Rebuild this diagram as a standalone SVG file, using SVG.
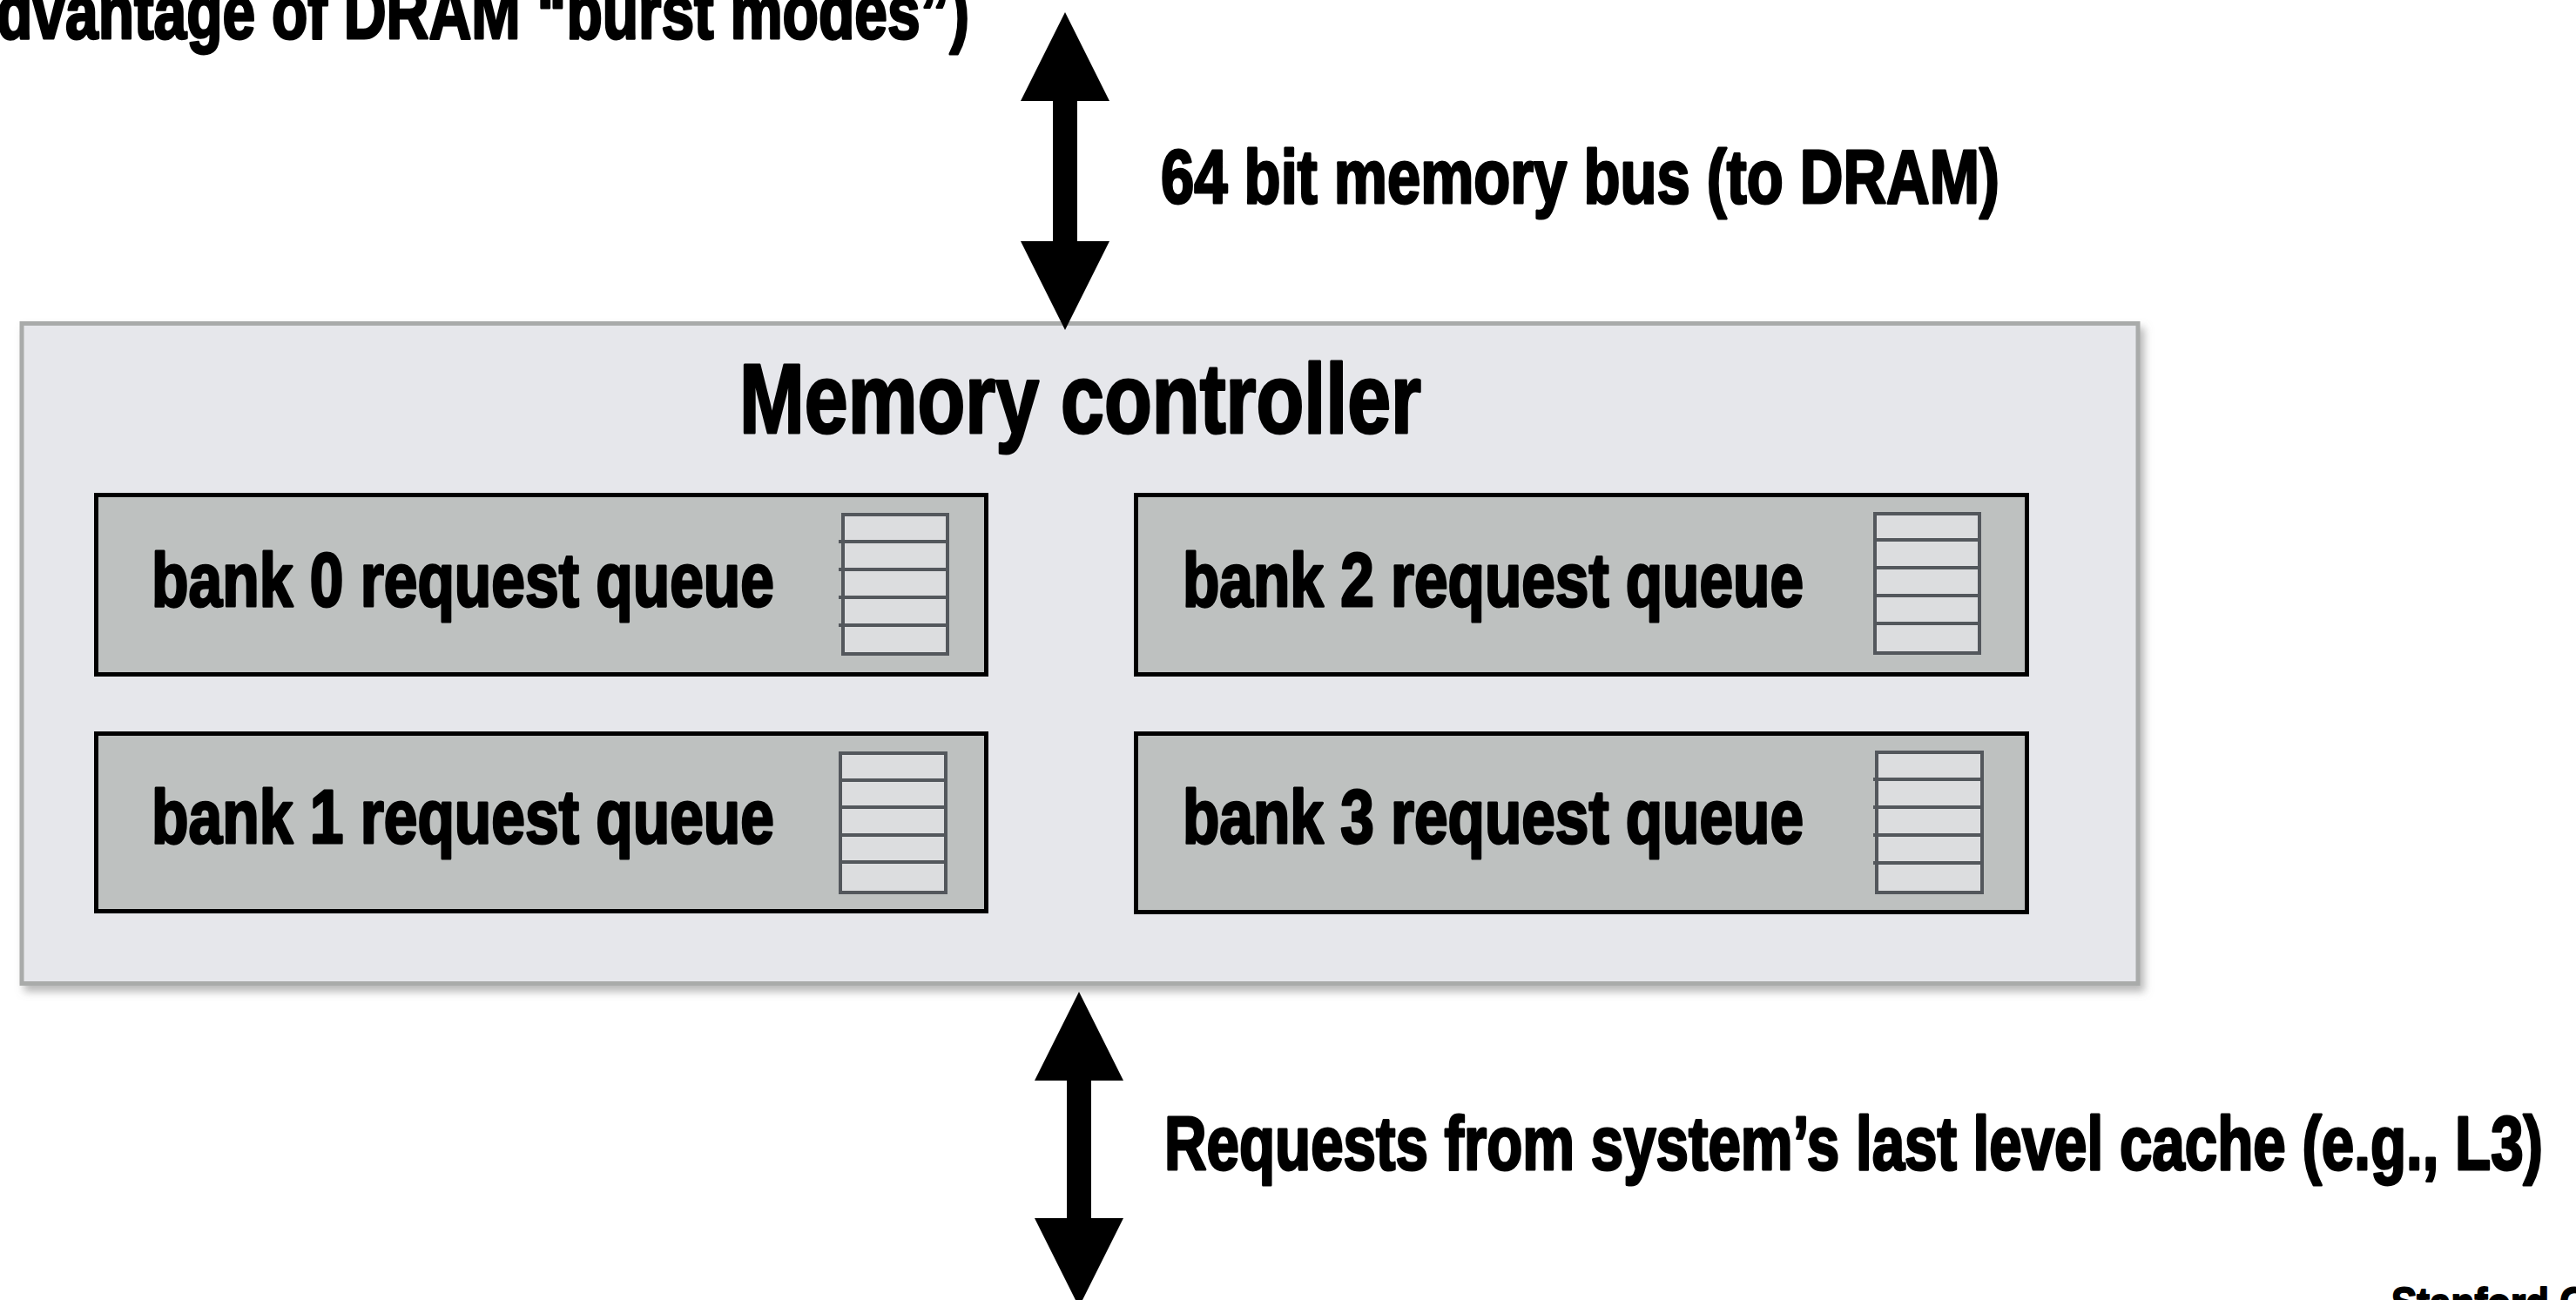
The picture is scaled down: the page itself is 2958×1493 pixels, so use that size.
<svg xmlns="http://www.w3.org/2000/svg" width="2958" height="1493" viewBox="0 0 2958 1493">
  <style>
    .t { font-family: "Liberation Sans Narrow", "Liberation Sans", "DejaVu Sans Condensed", sans-serif; font-weight: bold; fill: #000; stroke: #000; stroke-width: 3; stroke-linejoin: round; }
    .lbl { font-size: 88px; }
    .title { font-size: 114px; }
    .outer { fill: #e6e7eb; stroke: #a9abaa; stroke-width: 5; }
    .bank { fill: #bec1c0; stroke: #000; stroke-width: 5; }
    .q { fill: #dcdddf; stroke: #53575c; stroke-width: 4; }
    .ql { stroke: #53575c; stroke-width: 4; }
    .bus { stroke: #000; stroke-width: 28; fill: none; marker-start: url(#head); marker-end: url(#head); }
  </style>
  <defs>
    <marker id="head" viewBox="0 0 102 102" refX="0" refY="51" markerWidth="102" markerHeight="102" markerUnits="userSpaceOnUse" orient="auto-start-reverse">
      <path d="M0,0 L102,51 L0,102 Z" fill="#000"/>
    </marker>
    <filter id="shadow" x="-5%" y="-5%" width="110%" height="115%">
      <feDropShadow dx="5" dy="7" stdDeviation="5" flood-color="#808080" flood-opacity="0.55"/>
    </filter>
  </defs>
  <rect width="2958" height="1493" fill="#fff"/>

  <g id="top-note">
    <text class="t lbl" x="-4" y="44" textLength="1117" lengthAdjust="spacingAndGlyphs">dvantage of DRAM “burst modes”)</text>
  </g>

  <g id="memory-controller">
    <rect class="outer" x="25" y="371.5" width="2430" height="758" filter="url(#shadow)"/>
    <text class="t title" x="849" y="497" textLength="783" lengthAdjust="spacingAndGlyphs">Memory controller</text>
  </g>

  <g id="bank0">
    <rect class="bank" x="110.5" y="568.5" width="1022" height="206"/>
    <text class="t lbl" x="174" y="696" textLength="715" lengthAdjust="spacingAndGlyphs">bank 0 request queue</text>
    <rect class="q" x="968" y="591" width="120" height="160"/>
    <line class="ql" x1="963" y1="622" x2="1088" y2="622"/>
    <line class="ql" x1="963" y1="654" x2="1088" y2="654"/>
    <line class="ql" x1="963" y1="686" x2="1088" y2="686"/>
    <line class="ql" x1="963" y1="718" x2="1088" y2="718"/>
  </g>

  <g id="bank1">
    <rect class="bank" x="110.5" y="842.5" width="1022" height="204"/>
    <text class="t lbl" x="174" y="968" textLength="715" lengthAdjust="spacingAndGlyphs">bank 1 request queue</text>
    <rect class="q" x="965" y="865" width="121" height="160"/>
    <line class="ql" x1="965" y1="896" x2="1086" y2="896"/>
    <line class="ql" x1="965" y1="927" x2="1086" y2="927"/>
    <line class="ql" x1="965" y1="959" x2="1086" y2="959"/>
    <line class="ql" x1="965" y1="990" x2="1086" y2="990"/>
  </g>

  <g id="bank2">
    <rect class="bank" x="1304.5" y="568.5" width="1023" height="206"/>
    <text class="t lbl" x="1358" y="696" textLength="713" lengthAdjust="spacingAndGlyphs">bank 2 request queue</text>
    <rect class="q" x="2153" y="590" width="120" height="160"/>
    <line class="ql" x1="2153" y1="620" x2="2275" y2="620"/>
    <line class="ql" x1="2153" y1="652" x2="2275" y2="652"/>
    <line class="ql" x1="2153" y1="684" x2="2275" y2="684"/>
    <line class="ql" x1="2153" y1="716" x2="2275" y2="716"/>
  </g>

  <g id="bank3">
    <rect class="bank" x="1304.5" y="842.5" width="1023" height="205"/>
    <text class="t lbl" x="1358" y="968" textLength="713" lengthAdjust="spacingAndGlyphs">bank 3 request queue</text>
    <rect class="q" x="2155" y="864" width="121" height="161"/>
    <line class="ql" x1="2151" y1="895" x2="2276" y2="895"/>
    <line class="ql" x1="2151" y1="927" x2="2276" y2="927"/>
    <line class="ql" x1="2151" y1="959" x2="2276" y2="959"/>
    <line class="ql" x1="2151" y1="991" x2="2276" y2="991"/>
  </g>

  <g id="connectors">
    <line class="bus" x1="1223" y1="116" x2="1223" y2="277"/>
    <line class="bus" x1="1239" y1="1241" x2="1239" y2="1399"/>
  </g>

  <g id="bus-labels">
    <text class="t lbl" x="1333" y="233" textLength="963" lengthAdjust="spacingAndGlyphs">64 bit memory bus (to DRAM)</text>
    <text class="t lbl" x="1337" y="1343" textLength="1583" lengthAdjust="spacingAndGlyphs">Requests from system’s last level cache (e.g., L3)</text>
  </g>

  <g id="footer">
    <text class="t" style="font-size:50px; stroke-width:2" x="2746" y="1514" textLength="225" lengthAdjust="spacingAndGlyphs">Stanford C</text>
  </g>
</svg>
